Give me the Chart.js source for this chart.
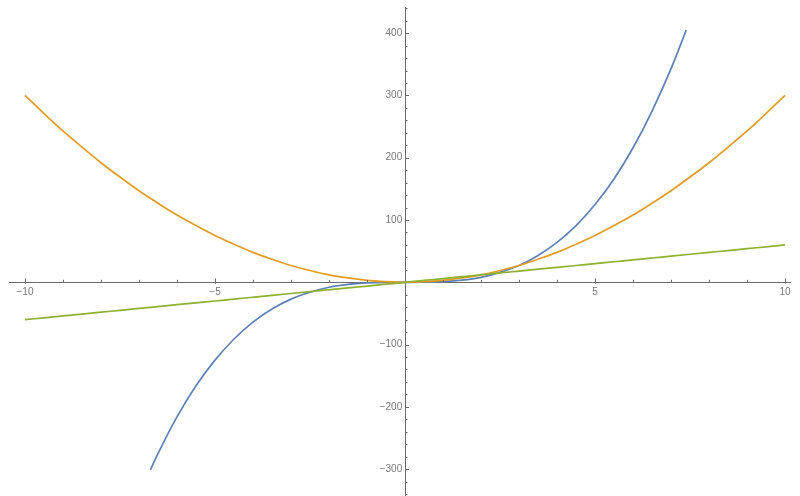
<!DOCTYPE html>
<html>
<head>
<meta charset="utf-8">
<script src="https://cdn.jsdelivr.net/npm/chart.js@4"></script>
<style>
  html, body { margin: 0; padding: 0; background: #fff; }
  #wrap { width: 800px; height: 496px; }
</style>
</head>
<body>
<div id="wrap"><canvas id="plot"></canvas></div>
<script>
// data
const xs = [-10, -9.5, -9, -8.5, -8, -7.5, -7, -6.5, -6, -5.5, -5, -4.5, -4, -3.5, -3, -2.5, -2, -1.5, -1, -0.5,
            0, 0.5, 1, 1.5, 2, 2.5, 3, 3.5, 4, 4.5, 5, 5.5, 6, 6.5, 7, 7.5, 8, 8.5, 9, 9.5, 10];
const orangeY = [300, 271, 243, 217, 192, 169, 147, 127, 108, 91, 75, 61, 48, 37, 27, 19, 12, 7, 3, 1,
                 0, 1, 3, 7, 12, 19, 27, 37, 48, 61, 75, 91, 108, 127, 147, 169, 192, 217, 243, 271, 300];
const greenY = [-60, -57, -54, -51, -48, -45, -42, -39, -36, -33, -30, -27, -24, -21, -18, -15, -12, -9, -6, -3,
                0, 3, 6, 9, 12, 15, 18, 21, 24, 27, 30, 33, 36, 39, 42, 45, 48, 51, 54, 57, 60];
const blueX = [-6.7, -6.5, -6, -5.5, -5, -4.5, -4, -3.5, -3, -2.5, -2, -1.5, -1, -0.5,
               0, 0.5, 1, 1.5, 2, 2.5, 3, 3.5, 4, 4.5, 5, 5.5, 6, 6.5, 7, 7.4];
const blueY = [-301, -275, -216, -166, -125, -91, -64, -43, -27, -16, -8, -3.4, -1, -0.1,
               0, 0.1, 1, 3.4, 8, 16, 27, 43, 64, 91, 125, 166, 216, 275, 343, 405];

// axis ticks
const xMajor = [-10, -5, 5, 10];
const yMajor = [-300, -200, -100, 100, 200, 300, 400];
const xMinorStep = 1;
const yMinorStep = 20;

const AXIS = '#6b6b6b';
const LABEL = '#767676';

function pts(xArr, yArr) {
    return xArr.map((x, i) => ({ x: x, y: yArr[i] }));
}
function fmt(v) {
    return v < 0 ? '\u2212' + Math.abs(v) : String(v);
}

// small Mathematica-style tick marks on the centred axes
const tickMarks = {
    id: 'tickMarks',
    afterDraw(chart) {
        const { ctx, scales: { x, y } } = chart;
        const x0 = x.getPixelForValue(0);
        const y0 = y.getPixelForValue(0);
        ctx.save();
        ctx.strokeStyle = AXIS;
        ctx.lineWidth = 1;
        ctx.beginPath();
        for (let v = Math.ceil(x.min); v <= x.max; v += xMinorStep) {
            if (v === 0) continue;
            const px = Math.round(x.getPixelForValue(v)) + 0.5;
            const major = v % 5 === 0;
            ctx.moveTo(px, y0 - (major ? 4 : 2.5));
            ctx.lineTo(px, y0 + (major ? 1.5 : 0));
        }
        for (let v = Math.ceil(y.min / yMinorStep) * yMinorStep; v <= y.max; v += yMinorStep) {
            if (v === 0) continue;
            const py = Math.round(y.getPixelForValue(v)) + 0.5;
            const major = v % 100 === 0;
            ctx.moveTo(x0, py);
            ctx.lineTo(x0 + (major ? 4 : 2.5), py);
        }
        ctx.stroke();
        ctx.restore();
    }
};

const lineDs = (data, color, order) => ({
    data: data,
    borderColor: color,
    borderWidth: 1.7,
    pointRadius: 0,
    showLine: true,
    fill: false,
    tension: 0.4,
    cubicInterpolationMode: 'monotone',
    order: order
});

// centred axes should not push the plot area in
const noPad = (scale) => {
    scale.paddingTop = 0; scale.paddingBottom = 0;
    scale.paddingLeft = 0; scale.paddingRight = 0;
};

new Chart(document.getElementById('plot'), {
    type: 'scatter',
    data: {
        datasets: [
            lineDs(pts(blueX, blueY), '#5e81b5', 3),
            lineDs(pts(xs, orangeY), '#e19c24', 2),
            lineDs(pts(xs, greenY), '#8fb032', 1)
        ]
    },
    options: {
        responsive: true,
        maintainAspectRatio: false,
        animation: false,
        layout: { padding: { left: 9, right: 10, top: 7, bottom: 1 } },
        plugins: { legend: { display: false }, tooltip: { enabled: false } },
        scales: {
            x: {
                type: 'linear',
                position: { y: 0 },
                min: -10.42,
                max: 10.13,
                afterBuildTicks: (scale) => { scale.ticks = xMajor.map(v => ({ value: v })); },
                afterFit: noPad,
                grid: { display: false, drawTicks: false },
                border: { display: true, color: AXIS, width: 1 },
                ticks: {
                    padding: 4,
                    maxRotation: 0,
                    autoSkip: false,
                    color: LABEL,
                    font: { family: 'Liberation Sans', size: 10 },
                    callback: (v) => fmt(v)
                }
            },
            y: {
                type: 'linear',
                position: { x: 0 },
                min: -341.5,
                max: 442,
                afterBuildTicks: (scale) => { scale.ticks = yMajor.map(v => ({ value: v })); },
                afterFit: noPad,
                grid: { display: false, drawTicks: false },
                border: { display: true, color: AXIS, width: 1 },
                ticks: {
                    autoSkip: false,
                    color: LABEL,
                    font: { family: 'Liberation Sans', size: 10 },
                    // trailing space keeps the label clear of the axis line
                    callback: (v) => fmt(v) + ' '
                }
            }
        }
    },
    plugins: [tickMarks]
});
</script>
</body>
</html>
